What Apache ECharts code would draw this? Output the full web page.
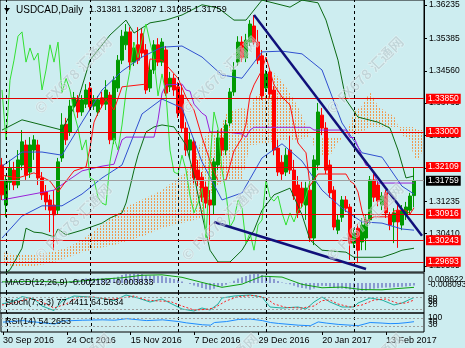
<!DOCTYPE html>
<html><head><meta charset="utf-8">
<script src="https://cdn.jsdelivr.net/npm/echarts/dist/echarts.min.js"></script>
<style>html,body{margin:0;padding:0;background:#cdedf0}#c{width:465px;height:348px}</style>
</head><body><div id="c"></div>
<script>
const FONT = '"Liberation Sans", Arial, sans-serif';
const symbolName = 'USDCAD,Daily';
const watermarkText = '© FX678 汇通网';
const watermarkCols = [73,220,365];
const watermarkRows = [75,222,372];
const dateLabels = ['30 Sep 2016','24 Oct 2016','15 Nov 2016','7 Dec 2016','29 Dec 2016','20 Jan 2017','13 Feb 2017'];
const labelStep = 16;
const barSlots = 106;
const priceTicks = [1.36235,1.35385,1.34560,1.33735,1.32910,1.32085,1.31235,1.30410,1.29585];
const levels = [1.33850,1.33000,1.32109,1.30916,1.30243,1.29693];
const lastPrice = 1.31759;
const separators = [1,22,44,66,88];

const open = [1.3216,1.3114,1.3172,1.3203,1.3165,1.3216,1.3267,1.3198,1.3254,1.3267,
1.3183,1.3147,1.3127,1.3114,1.3101,1.3234,1.3320,1.3300,1.3366,1.3382,
1.3351,1.3371,1.3412,1.3366,1.3351,1.3387,1.3371,1.3394,1.3280,1.3412,
1.3483,1.3522,1.3555,1.3478,1.3522,1.3550,1.3509,1.3412,1.3458,1.3522,
1.3478,1.3509,1.3415,1.3437,1.3415,1.3394,1.3310,1.3254,1.3275,1.3203,
1.3185,1.3160,1.3127,1.3114,1.3216,1.3285,1.3254,1.3323,1.3402,1.3478,
1.3529,1.3489,1.3529,1.3570,1.3529,1.3494,1.3412,1.3453,1.3407,1.3259,
1.3223,1.3198,1.3254,1.3203,1.3165,1.3157,1.3114,1.3152,1.3030,1.3216,
1.3343,1.3310,1.3216,1.3152,1.3050,1.3083,1.3127,1.3109,1.3017,1.3055,
1.3020,1.3030,1.3076,1.3178,1.3165,1.3114,1.3145,1.3089,1.3071,1.3101,
1.3063,1.3089,1.3101,1.31381];
const close = [1.3140,1.3178,1.3208,1.3165,1.3229,1.3275,1.3190,1.3267,1.3280,1.3183,
1.3140,1.3122,1.3101,1.3089,1.3224,1.3318,1.3280,1.3366,1.3387,1.3351,
1.3382,1.3407,1.3364,1.3382,1.3382,1.3371,1.3407,1.3280,1.3432,1.3483,
1.3544,1.3555,1.3478,1.3514,1.3483,1.3501,1.3407,1.3458,1.3522,1.3478,
1.3529,1.3399,1.3437,1.3407,1.3348,1.3310,1.3254,1.3280,1.3183,1.3178,
1.3134,1.3119,1.3114,1.3224,1.3285,1.3254,1.3318,1.3402,1.3458,1.3529,
1.3489,1.3534,1.3575,1.3529,1.3483,1.3392,1.3448,1.3397,1.3254,1.3198,
1.3193,1.3241,1.3203,1.3137,1.3094,1.3119,1.3157,1.3030,1.3229,1.3351,
1.3310,1.3203,1.3145,1.3058,1.3076,1.3127,1.3106,1.3017,1.3043,1.2999,
1.3063,1.3076,1.3178,1.3134,1.3124,1.3137,1.3094,1.3063,1.3094,1.3071,
1.3101,1.3109,1.3137,1.31759];
const low = [1.3127,1.3084,1.3152,1.3152,1.3157,1.3203,1.3178,1.3183,1.3229,1.3165,
1.3127,1.3101,1.3045,1.2999,1.3089,1.3224,1.3267,1.3290,1.3351,1.3336,
1.3341,1.3361,1.3353,1.3356,1.3341,1.3361,1.3356,1.3269,1.3269,1.3402,
1.3473,1.3509,1.3458,1.3468,1.3473,1.3489,1.3397,1.3402,1.3448,1.3468,
1.3468,1.3392,1.3402,1.3392,1.3336,1.3300,1.3239,1.3234,1.3170,1.3162,
1.3122,1.3106,1.3025,1.3089,1.3203,1.3239,1.3241,1.3315,1.3392,1.3468,
1.3478,1.3478,1.3519,1.3522,1.3473,1.3382,1.3402,1.3387,1.3241,1.3188,
1.3178,1.3188,1.3193,1.3127,1.3081,1.3106,1.3076,1.3020,1.3012,1.3203,
1.3292,1.3193,1.3132,1.3050,1.3040,1.3071,1.3096,1.2974,1.3005,1.2966,
1.2999,1.2999,1.3066,1.3122,1.3111,1.3101,1.3081,1.3050,1.3017,1.3005,
1.3050,1.3076,1.3091,1.31085];
const high = [1.3234,1.3190,1.3229,1.3224,1.3254,1.3305,1.3280,1.3287,1.3292,1.3280,
1.3198,1.3165,1.3140,1.3152,1.3234,1.3348,1.3336,1.3382,1.3402,1.3394,
1.3394,1.3422,1.3427,1.3394,1.3392,1.3402,1.3432,1.3402,1.3442,1.3496,
1.3560,1.3575,1.3567,1.3529,1.3567,1.3565,1.3524,1.3478,1.3534,1.3539,
1.3539,1.3519,1.3453,1.3448,1.3427,1.3420,1.3325,1.3300,1.3285,1.3229,
1.3198,1.3173,1.3152,1.3234,1.3305,1.3310,1.3331,1.3412,1.3478,1.3544,
1.3544,1.3550,1.3585,1.3598,1.3560,1.3509,1.3458,1.3463,1.3417,1.3280,
1.3241,1.3259,1.3290,1.3229,1.3188,1.3173,1.3173,1.3165,1.3241,1.3374,
1.3361,1.3325,1.3229,1.3162,1.3091,1.3137,1.3137,1.3117,1.3055,1.3066,
1.3081,1.3091,1.3188,1.3198,1.3178,1.3147,1.3152,1.3096,1.3106,1.3114,
1.3114,1.3122,1.3145,1.32087];

// indicator lines as [bar, value] points
const upperBand = [[0,1.3305],[5,1.3331],[10,1.3318],[15,1.3305],[19,1.3382],[22,1.3483],[27,1.3547],[31,1.3585],[33,1.3552],[37,1.3578],[41,1.3585],[45,1.3598],[50,1.3624],[54,1.3616],[58,1.3585],[61,1.3585],[65,1.3636],[72,1.3618],[75,1.3636],[79,1.3629],[81,1.3585],[84,1.3483],[86,1.3382],[89,1.3338],[94,1.3325],[97,1.3310],[99,1.3254],[101,1.3183],[103,1.3188]];
const lowerBand = [[0,1.2936],[2,1.2949],[5,1.3004],[6,1.3055],[8,1.3045],[10,1.3043],[13,1.3033],[14,1.3053],[16,1.3038],[20,1.3050],[25,1.3068],[27,1.3081],[30,1.3094],[31,1.3119],[32,1.3160],[33,1.3203],[34,1.3241],[36,1.3300],[38,1.3313],[40,1.3318],[43,1.3313],[46,1.3267],[48,1.3190],[50,1.3089],[52,1.2999],[54,1.2969],[57,1.2969],[60,1.2999],[63,1.3050],[65,1.3101],[68,1.3140],[72,1.3157],[75,1.3089],[77,1.3025],[80,1.2999],[86,1.2994],[88,1.2981],[95,1.2981],[98,1.2991],[100,1.2999],[103,1.3004]];
const innerUpper = [[0,1.3213],[5,1.3249],[10,1.3249],[15,1.3241],[20,1.3325],[25,1.3407],[30,1.3455],[35,1.3491],[40,1.3516],[45,1.3519],[50,1.3491],[55,1.3445],[60,1.3437],[65,1.3504],[70,1.3506],[75,1.3499],[80,1.3458],[85,1.3323],[90,1.3247],[95,1.3236],[100,1.3162],[103,1.3142]];
const innerLower = [[0,1.3030],[5,1.3086],[10,1.3112],[15,1.3112],[20,1.3142],[25,1.3183],[30,1.3216],[35,1.3346],[40,1.3384],[45,1.3361],[50,1.3224],[55,1.3127],[60,1.3145],[65,1.3234],[70,1.3270],[75,1.3226],[80,1.3152],[85,1.3106],[90,1.3071],[95,1.3068],[100,1.3053],[103,1.3050]];
const tenkan = [[0,1.3190],[4,1.3183],[8,1.3196],[12,1.3175],[14,1.3147],[16,1.3175],[18,1.3201],[21,1.3211],[22,1.3259],[23,1.3325],[24,1.3348],[26,1.3384],[28,1.3356],[30,1.3415],[36,1.3422],[37,1.3486],[40,1.3483],[44,1.3437],[46,1.3389],[48,1.3356],[50,1.3287],[52,1.3226],[54,1.3175],[56,1.3178],[58,1.3252],[60,1.3285],[61,1.3320],[62,1.3394],[63,1.3420],[65,1.3458],[66,1.3491],[68,1.3420],[70,1.3389],[72,1.3369],[73,1.3318],[74,1.3272],[76,1.3247],[77,1.3163],[79,1.3193],[86,1.3193],[87,1.3175],[88,1.3168],[89,1.3147],[90,1.3099],[91,1.3066],[92,1.3079],[93,1.3084],[97,1.3084],[98,1.3099],[101,1.3101],[102,1.3091],[103,1.3107]];
const kijun = [[0,1.3127],[13,1.3152],[20,1.3201],[25,1.3213],[28,1.3218],[29,1.3249],[30,1.3280],[31,1.3287],[38,1.3287],[39,1.3331],[40,1.3399],[41,1.3420],[45,1.3422],[46,1.3407],[47,1.3404],[48,1.3371],[50,1.3348],[51,1.3341],[52,1.3300],[56,1.3300],[60,1.3295],[61,1.3287],[62,1.3305],[63,1.3312],[77,1.3312],[78,1.3305],[86,1.3305],[87,1.3286],[88,1.3286],[89,1.3263],[90,1.3238],[91,1.3215],[92,1.3215],[93,1.3192],[94,1.3170],[103,1.3170]];
const cloudIdx = [0,4,8,12,16,20,24,28,32,36,40,44,46,48,50,52,54,56,58,60,62,63,66,68,70,72,74,76,78,80,82,84,86,88,90,92,94,96,98,100,102,103,104,105];
const cloudA = [1.2994,1.2987,1.2989,1.2994,1.3004,1.3025,1.3056,1.3089,1.3114,1.3132,1.3152,1.3183,1.3198,1.3236,1.3280,1.3300,1.3290,1.3348,1.3356,1.3361,1.3356,1.3387,1.3407,1.3450,1.3430,1.3399,1.3364,1.3318,1.3264,1.3239,1.3239,1.3275,1.3292,1.3351,1.3366,1.3402,1.3366,1.3351,1.3341,1.3292,1.3280,1.3234,1.3229,1.3249];
const cloudB = [1.2964,1.2956,1.2959,1.2966,1.2979,1.2994,1.3004,1.3012,1.3025,1.3038,1.3056,1.3066,1.3071,1.3076,1.3081,1.3140,1.3165,1.3178,1.3178,1.3178,1.3267,1.3267,1.3272,1.3275,1.3280,1.3280,1.3280,1.3285,1.3287,1.3287,1.3287,1.3287,1.3287,1.3292,1.3300,1.3313,1.3313,1.3313,1.3313,1.3313,1.3313,1.3313,1.3305,1.3305];
const chikouShift = 26;
const trendUpper = [[63,1.3598],[105,1.3036]];
const trendLower = [[53,1.3071],[91,1.2951]];

const macdHist = [0.0010,0.0010,0.0012,0.0012,0.0014,0.0018,0.0016,0.0018,0.0020,0.0016,0.0010,0.0004,-0.0002,-0.0008,
-0.0004,0.0006,0.0010,0.0018,0.0026,0.0030,0.0034,0.0040,0.0040,0.0042,0.0042,0.0042,0.0045,0.0036,0.0046,0.0056,0.0070,0.0080,0.0080,0.0082,0.0080,0.0080,0.0068,0.0064,0.0066,0.0062,0.0062,0.0050,0.0044,0.0036,0.0026,0.0014,
0.0000,-0.0008,-0.0022,-0.0032,-0.0044,-0.0054,-0.0060,-0.0050,-0.0036,-0.0028,-0.0016,
0.0002,0.0020,0.0040,0.0050,0.0062,0.0075,0.0080,0.0080,0.0070,0.0064,0.0054,0.0036,0.0018,0.0004,
-0.0004,-0.0012,-0.0024,-0.0038,-0.0044,-0.0048,-0.0060,-0.0048,-0.0030,-0.0024,-0.0026,-0.0032,-0.0042,-0.0048,-0.0048,-0.0050,-0.0058,-0.0062,-0.0068,-0.0068,-0.0066,-0.0056,-0.0050,-0.0046,-0.0042,-0.0040,-0.0040,-0.0038,-0.0036,-0.0033,-0.0030,-0.0026,-0.002132];
const macdSignal = [[0,0.0010],[10,0.0015],[15,0.0004],[20,0.0018],[25,0.0034],[30,0.0046],[35,0.0068],[40,0.0072],[45,0.0050],[50,0.0005],[55,-0.0038],[60,-0.0010],[65,0.0060],[70,0.0052],[75,-0.0012],[80,-0.0042],[85,-0.0036],[90,-0.0058],[95,-0.0060],[100,-0.0046],[103,-0.003833]];
const macdReadout = [-0.002132,-0.003833];
const stochMain = [[0,45],[3,60],[5,82],[8,70],[10,35],[13,12],[15,60],[18,85],[22,80],[26,70],[28,62],[31,90],[34,75],[37,55],[40,70],[42,50],[45,20],[48,10],[50,25],[52,15],[54,45],[55,75],[58,85],[62,90],[65,80],[67,30],[70,25],[74,30],[76,20],[78,55],[80,80],[82,55],[85,30],[88,30],[89,50],[92,75],[95,65],[98,40],[100,50],[103,77.4411]];
const stochSignal = [[0,40],[4,55],[7,75],[10,55],[13,25],[16,45],[19,78],[23,80],[27,68],[30,75],[33,85],[36,65],[39,60],[42,58],[45,35],[48,15],[51,18],[53,25],[56,60],[59,82],[63,88],[66,75],[68,45],[71,28],[75,25],[78,35],[80,62],[82,65],[84,45],[87,30],[90,40],[93,65],[96,70],[99,48],[101,50],[103,64.5634]];
const stochLevels = [80,20];
const rsi = [[0,52],[5,60],[10,48],[13,42],[15,58],[20,62],[25,64],[28,62],[31,70],[36,60],[40,64],[44,55],[46,48],[50,38],[52,36],[53,50],[56,55],[59,66],[62,68],[65,60],[67,50],[69,45],[74,36],[77,33],[79,53],[81,47],[84,40],[87,36],[89,33],[92,50],[95,47],[97,44],[99,45],[101,49],[103,54.2653]];
const rsiLevels = [70,30];

const cats = Array.from({length: barSlots}, (_, i) => String(i));
const last = open.length - 1;
const candleData = open.map((o, i) => [o, close[i], low[i], high[i]]);
const chikou = close.slice(chikouShift).map((v, k) => [k, v]);

const pc = document.createElement('canvas'); pc.width = 3; pc.height = 3;
const pg = pc.getContext('2d'); pg.fillStyle = '#f09a50'; pg.fillRect(1, 0, 1, 2);

const grids = [
  {left: 0, right: 41, top: 0, height: 272},
  {left: 0, right: 41, top: 273, height: 20},
  {left: 0, right: 41, top: 293, height: 20},
  {left: 0, right: 41, top: 313, height: 19}
].map(g => Object.assign(g, {show: true, borderColor: '#000', borderWidth: 1}));

const isLabel = (idx) => idx % labelStep === 0 && idx / labelStep < dateLabels.length;
const xAxes = grids.map((g, k) => ({
  type: 'category', gridIndex: k, data: cats, boundaryGap: true,
  axisLine: {show: false}, splitLine: {show: false},
  axisTick: k === 3 ? {show: true, interval: isLabel, length: 3, alignWithLabel: true, lineStyle: {color: '#000'}} : {show: false},
  axisLabel: k === 3 ? {show: true, interval: isLabel, formatter: (v, idx) => dateLabels[idx / labelStep], align: 'left', fontSize: 9, fontFamily: FONT, color: '#000', margin: 4} : {show: false}
}));
const yAxes = [
  {type: 'value', gridIndex: 0, position: 'right', min: 1.29435, max: 1.36362, splitLine: {show: false},
   axisLine: {show: true, lineStyle: {color: '#000'}},
   axisTick: {show: true, customValues: priceTicks, length: 3, lineStyle: {color: '#000'}},
   axisLabel: {customValues: priceTicks, formatter: v => v.toFixed(5), fontSize: 8.5, fontFamily: FONT, color: '#000', margin: 5}},
  {type: 'value', gridIndex: 1, position: 'right', min: -0.0088, max: 0.0088, show: false},
  {type: 'value', gridIndex: 2, position: 'right', min: 0, max: 100, show: false},
  {type: 'value', gridIndex: 3, position: 'right', min: 0, max: 100, show: false}
];

const sepLine = (extra) => ({silent: true, symbol: 'none', precision: 6, label: {show: false},
  lineStyle: {color: '#000', type: [3, 3], width: 1},
  data: separators.map(i => ({xAxis: i})).concat(extra || [])});

const lineS = (data, color, extra) => Object.assign({type: 'line', data, showSymbol: false, symbol: 'none', silent: true,
  lineStyle: {color, width: 1}, z: 3, animation: false}, extra || {});

const lvlLabel = (v, bg) => ({show: true, position: 'end', distance: 2, formatter: v.toFixed(5), color: '#fff', backgroundColor: bg, padding: [1, 2, 0, 2], fontSize: 8.5, fontFamily: FONT});

const series = [
  {type: 'custom', xAxisIndex: 0, yAxisIndex: 0, data: [0], z: 1, silent: true, animation: false, clip: true,
   renderItem: (params, api) => {
     const top = cloudIdx.map((ix, k) => api.coord([ix, cloudA[k]]));
     const bot = cloudIdx.map((ix, k) => api.coord([ix, cloudB[k]])).reverse();
     return {type: 'polygon', shape: {points: top.concat(bot)}, style: {fill: {image: pc, repeat: 'repeat'}}};
   }},
  {type: 'candlestick', xAxisIndex: 0, yAxisIndex: 0, data: candleData, barWidth: 3, z: 2, animation: false, silent: true,
   itemStyle: {color: '#009a00', color0: '#ff0000', borderColor: '#009a00', borderColor0: '#ff0000', borderWidth: 1},
   markLine: sepLine()},
  lineS(upperBand, '#0b6a14'),
  lineS(lowerBand, '#0b6a14'),
  lineS(innerUpper, '#3050d0'),
  lineS(innerLower, '#3050d0'),
  lineS(kijun, '#9a22d8'),
  lineS(tenkan, '#ff1010'),
  lineS(chikou, '#33e033'),
  lineS(trendUpper, '#10107a', {lineStyle: {color: '#10107a', width: 2.5}, z: 5,
    markLine: {silent: true, symbol: 'none', z: 5, precision: 6,
      data: levels.map(v => ({yAxis: v, lineStyle: {color: '#e00000', width: 1, type: 'solid'}, label: lvlLabel(v, '#ff0000')}))
      .concat([{yAxis: lastPrice, lineStyle: {color: '#a0a0a0', width: 1, type: 'solid'}, label: lvlLabel(lastPrice, '#000')}])}}),
  lineS(trendLower, '#10107a', {lineStyle: {color: '#10107a', width: 2.5}, z: 5}),
  {type: 'bar', xAxisIndex: 1, yAxisIndex: 1, data: macdHist, barWidth: 1, silent: true, animation: false,
   itemStyle: {color: '#4848b0'}, markLine: sepLine()},
  lineS(macdSignal, '#10a010', {xAxisIndex: 1, yAxisIndex: 1}),
  lineS(stochMain, '#20b0a0', {xAxisIndex: 2, yAxisIndex: 2,
    markLine: sepLine(stochLevels.map(v => ({yAxis: v, lineStyle: {color: '#a0a0a0', type: [2, 2]}})))}),
  lineS(stochSignal, '#ff2020', {xAxisIndex: 2, yAxisIndex: 2, lineStyle: {color: '#ff2020', width: 1, type: [2, 2]}}),
  lineS(rsi, '#1e8cff', {xAxisIndex: 3, yAxisIndex: 3,
    markLine: sepLine(rsiLevels.map(v => ({yAxis: v, lineStyle: {color: '#a0a0a0', type: [2, 2]}})))})
];

const txt = (x, y, text, size) => ({type: 'text', x, y, silent: true, z: 50,
  style: {text, fill: '#000', font: size + 'px ' + FONT, verticalAlign: 'middle'}});

const watermarks = [];
watermarkRows.forEach(y => watermarkCols.forEach(x => watermarks.push({type: 'text', x, y, rotation: Math.PI / 4, silent: true, z: 40,
  style: {text: watermarkText, font: 'bold 14px "Noto Sans CJK SC", "Liberation Sans", sans-serif', align: 'center', verticalAlign: 'middle',
    fill: 'rgba(160,175,180,0.4)', stroke: 'rgba(255,255,255,0.45)', lineWidth: 1}})));

const graphic = [
  {type: 'polygon', shape: {points: [[4, 8], [10, 8], [7, 12]]}, style: {fill: '#000'}, z: 50},
  txt(16, 10, symbolName, 10),
  txt(89, 10, [open[last], high[last], low[last], close[last]].map(v => v.toFixed(5)).join(' '), 9),
  txt(5, 283, 'MACD(12,26,9) ' + macdReadout.map(v => v.toFixed(6)).join(' '), 9),
  txt(5, 303, 'Stoch(7,3,3) ' + stochMain[stochMain.length - 1][1].toFixed(4) + ' ' + stochSignal[stochSignal.length - 1][1].toFixed(4), 9),
  txt(5, 322, 'RSI(14) ' + rsi[rsi.length - 1][1].toFixed(4), 9),
  txt(428, 280, '0.008622', 8.5),
  txt(428, 285, '-0.008093', 8.5),
  txt(428, 299, '80', 8.5), txt(428, 302, '50', 8.5), txt(428, 305, '20', 8.5),
  txt(428, 318, '100', 8.5), txt(428, 322, '70', 8.5), txt(428, 325, '30', 8.5)
].concat(watermarks);

const chart = echarts.init(document.getElementById('c'), null, {renderer: 'canvas'});
chart.setOption({
  backgroundColor: '#cdedf0', animation: false,
  grid: grids, xAxis: xAxes, yAxis: yAxes, series, graphic
});
</script></body></html>
